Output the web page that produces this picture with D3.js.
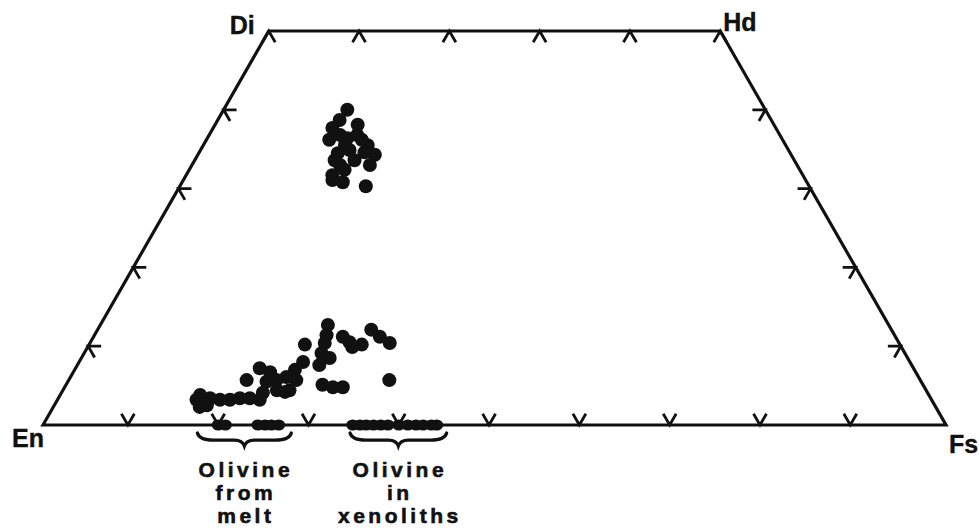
<!DOCTYPE html>
<html>
<head>
<meta charset="utf-8">
<script src="https://cdn.jsdelivr.net/npm/d3@7/dist/d3.min.js"></script>
<style>
  html, body { margin: 0; padding: 0; background: #fff; }
  svg { display: block; }
  text { font-family: "Liberation Sans", Arial, Helvetica, sans-serif; font-weight: bold; fill: #111; }
</style>
</head>
<body>
<svg id="chart" width="979" height="529"></svg>
<script>
// ---------- DATA (ternary %: Fs, Wo; En = 100 - Fs - Wo) ----------
const cornerLabels = ["En", "Di", "Hd", "Fs"];

// Pyroxene analyses, upper (Ca-rich) cluster: [Fs, Wo]
const pyroxeneUpper = [
  [13.7, 40.0], [13.5, 38.7], [15.8, 38.1], [13.2, 37.7], [13.6, 36.2],
  [14.5, 36.8], [15.5, 36.4], [16.4, 36.8], [18.2, 35.5], [19.6, 34.3],
  [18.3, 34.6], [16.5, 34.9], [15.4, 34.5], [16.4, 33.0], [19.7, 33.0],
  [16.2, 31.7], [16.5, 31.1], [17.8, 30.8], [20.6, 30.3], [15.7, 35.5],
  [17.7, 33.6], [17.2, 36.2], [15.5, 33.6], [17.2, 32.4]
];

// Pyroxene analyses, lower (Ca-poor) cluster: [Fs, Wo]
const pyroxeneLower = [
  [25.2, 12.7], [25.7, 11.4], [26.0, 10.4], [23.9, 10.2], [27.5, 8.5],
  [26.8, 7.6], [24.8, 8.0], [24.4, 7.0], [25.2, 5.7], [23.9, 6.1],
  [23.0, 5.7], [21.8, 6.7], [20.4, 7.2], [22.0, 5.5], [23.7, 4.4],
  [25.1, 4.4], [22.3, 4.1], [22.4, 3.2], [19.7, 5.7], [21.2, 3.4],
  [20.1, 3.4], [19.1, 3.2], [18.0, 3.2], [16.8, 3.4], [15.5, 3.8],
  [15.4, 3.2], [16.2, 2.3], [16.9, 2.5], [27.6, 11.2], [28.7, 10.5],
  [30.2, 10.2], [30.3, 12.1], [31.7, 11.2], [33.2, 10.4], [29.3, 9.9],
  [28.4, 5.1], [29.7, 4.8], [30.8, 4.8], [35.5, 5.7], [26.3, 9.1],
  [22.3, 6.0], [24.7, 4.2]
];

// Olivine compositions plotted on the En–Fs join (Fs %)
const olivineMelt = [19.4, 20.2, 23.8, 24.6, 25.3, 26.1];
const olivineXenoliths = [34.3, 35.1, 35.8, 36.6, 37.4, 38.2, 39.4, 40.4, 41.3, 42.1, 43.0, 43.6];

// Brace groups (Fs range) and their labels
const braceFrom = [17.1, 34.0];
const braceTo = [27.5, 44.7];
const braceLabels = [["Olivine", "from", "melt"], ["Olivine", "in", "xenoliths"]];

// Tick positions
const topTicksFs = [0, 10, 20, 30, 40, 50];                          // along Di–Hd (Wo = 50)
const bottomTicksFs = [9.4, 19.4, 29.4, 39.4, 49.4, 59.4, 69.4, 79.4, 89.4]; // along En–Fs
const sideTicksWo = [10, 20, 30, 40];                                // along En–Di and Fs–Hd

// ---------- DRAWING ----------
const svg = d3.select("#chart");
const ink = "#111";

// Ternary projection through linear scales
const xS = d3.scaleLinear().domain([0, 100]).range([43, 946]);
const yS = d3.scaleLinear().domain([0, 50]).range([425, 31]);
const px = (fs, wo) => xS(fs + wo / 2);
const py = (wo) => yS(wo);

// Outline of quadrilateral En - Di - Hd - Fs
const corners = [[0, 0], [0, 50], [50, 50], [100, 0]]; // [Fs, Wo]
svg.append("path")
  .attr("d", d3.line()(corners.map(c => [px(c[0], c[1]), py(c[1])])) + "Z")
  .attr("fill", "none").attr("stroke", ink).attr("stroke-width", 3.2)
  .attr("stroke-linejoin", "miter");

// Tick marks: two short arms along the other ternary directions
const L = 13;
const dUR = [0.498, -0.867], dUL = [-0.498, -0.867], dDR = [0.498, 0.867], dDL = [-0.498, 0.867];
const ticks = [];
topTicksFs.forEach(f => ticks.push({ x: px(f, 50), y: py(50), a: dDL, b: dDR }));
bottomTicksFs.forEach(f => ticks.push({ x: px(f, 0), y: py(0), a: dUL, b: dUR }));
sideTicksWo.forEach(w => {
  ticks.push({ x: px(0, w), y: py(w), a: [1, 0], b: dDR });
  ticks.push({ x: px(100 - w, w), y: py(w), a: [-1, 0], b: dDL });
});
svg.append("g").selectAll("path").data(ticks).join("path")
  .attr("d", t => `M${t.x + t.a[0] * L},${t.y + t.a[1] * L}L${t.x},${t.y}L${t.x + t.b[0] * L},${t.y + t.b[1] * L}`)
  .attr("fill", "none").attr("stroke", ink).attr("stroke-width", 2.8)
  .attr("stroke-linejoin", "miter");

// Corner labels
const labelPos = [
  { x: px(0, 0) - 31, y: py(0) + 22 },
  { x: px(0, 50) - 39, y: py(50) + 3 },
  { x: px(50, 50) + 3, y: py(50) },
  { x: px(100, 0) + 3, y: py(0) + 28 }
];
svg.append("g").selectAll("text").data(cornerLabels).join("text")
  .attr("x", (d, i) => labelPos[i].x).attr("y", (d, i) => labelPos[i].y)
  .attr("font-size", 25).attr("stroke", ink).attr("stroke-width", 0.4)
  .text(d => d);

// Pyroxene points
const r = 7;
svg.append("g").selectAll("circle").data(pyroxeneUpper.concat(pyroxeneLower)).join("circle")
  .attr("cx", d => px(d[0], d[1])).attr("cy", d => py(d[1]))
  .attr("r", r).attr("fill", ink);

// Olivine points on the En–Fs join
svg.append("g").selectAll("ellipse").data(olivineMelt.concat(olivineXenoliths)).join("ellipse")
  .attr("cx", d => px(d, 0)).attr("cy", py(0))
  .attr("rx", 6.5).attr("ry", 5.5).attr("fill", ink);

// Braces
function bracePath(x1, x2, y, h) {
  const m = (x1 + x2) / 2, q = 10;
  return `M${x1},${y} Q${x1 + 2},${y + h * 0.55} ${x1 + q * 1.6},${y + h * 0.55}` +
         ` L${m - q},${y + h * 0.55} Q${m - 2},${y + h * 0.55} ${m},${y + h}` +
         ` Q${m + 2},${y + h * 0.55} ${m + q},${y + h * 0.55}` +
         ` L${x2 - q * 1.6},${y + h * 0.55} Q${x2 - 2},${y + h * 0.55} ${x2},${y}`;
}
const braceY = py(0) + 8;
svg.append("g").selectAll("path").data(braceFrom).join("path")
  .attr("d", (d, i) => bracePath(px(d, 0), px(braceTo[i], 0), braceY, 13))
  .attr("fill", "none").attr("stroke", ink).attr("stroke-width", 3.2)
  .attr("stroke-linecap", "round");

// Brace labels (one text per line)
const labelLines = [];
braceLabels.forEach((lines, i) => lines.forEach((t, j) => labelLines.push({ t, i, j })));
svg.append("g").selectAll("text").data(labelLines).join("text")
  .attr("text-anchor", "middle").attr("font-size", 21).attr("letter-spacing", 3.5)
  .attr("stroke", ink).attr("stroke-width", 0.6)
  .attr("x", d => px((braceFrom[d.i] + braceTo[d.i]) / 2, 0) + 1.5)
  .attr("y", d => braceY + 44 + d.j * 23)
  .text(d => d.t);
</script>
</body>
</html>
